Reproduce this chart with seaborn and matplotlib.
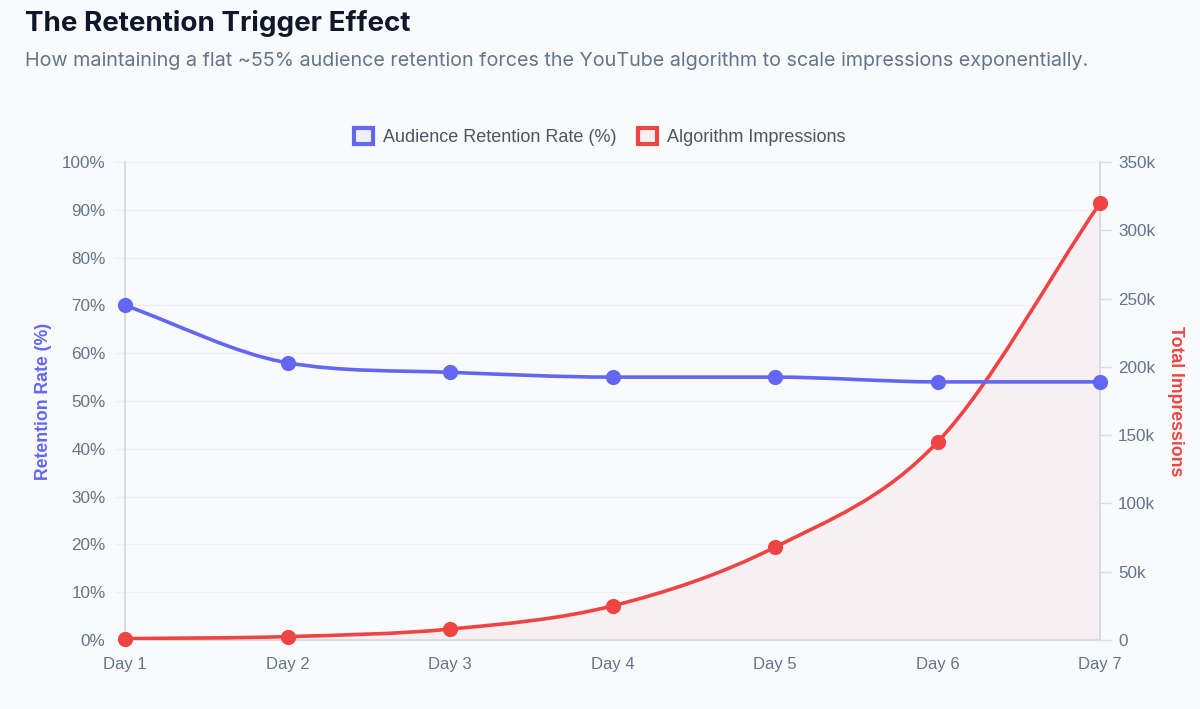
import numpy as np
import pandas as pd
import seaborn as sns
import matplotlib.pyplot as plt
from matplotlib.path import Path
from matplotlib.patches import PathPatch, Patch

# data
days = ["Day 1", "Day 2", "Day 3", "Day 4", "Day 5", "Day 6", "Day 7"]
retention = [70, 58, 56, 55, 55, 54, 54]
impressions = [1000, 2500, 8000, 25000, 68000, 145000, 320000]

BLUE = "#6366f1"
RED = "#ef4444"
BG = "#f8fafc"
GRID = "#f3eef1"
SPINE = "#d8dbe2"
TICK = "#64748b"

df = pd.DataFrame({"day": days, "x": range(len(days)),
                   "retention": retention, "impressions": impressions})

sns.set_theme(style="white")
plt.rcParams["font.family"] = ["Liberation Sans", "DejaVu Sans"]


def smooth_path(xs, ys, close=False):
    # monotone cubic curve through the points (like Chart.js 'monotone')
    xs = np.asarray(xs, float)
    ys = np.asarray(ys, float)
    n = len(xs)
    dk = np.diff(ys) / np.diff(xs)
    mk = np.zeros(n)
    mk[0], mk[-1] = dk[0], dk[-1]
    for i in range(1, n - 1):
        if np.sign(dk[i - 1]) != np.sign(dk[i]):
            mk[i] = 0
        else:
            mk[i] = (dk[i - 1] + dk[i]) / 2
    for i in range(n - 1):
        if abs(dk[i]) < 1e-12:
            mk[i] = mk[i + 1] = 0
            continue
        a, b = mk[i] / dk[i], mk[i + 1] / dk[i]
        sq = a * a + b * b
        if sq <= 9:
            continue
        tau = 3 / np.sqrt(sq)
        mk[i], mk[i + 1] = a * tau * dk[i], b * tau * dk[i]
    verts, codes = [(xs[0], ys[0])], [Path.MOVETO]
    for i in range(n - 1):
        h = (xs[i + 1] - xs[i]) / 3
        verts += [(xs[i] + h, ys[i] + mk[i] * h),
                  (xs[i + 1] - h, ys[i + 1] - mk[i + 1] * h),
                  (xs[i + 1], ys[i + 1])]
        codes += [Path.CURVE4] * 3
    if close:
        verts += [(xs[-1], 0), (xs[0], 0), (xs[0], ys[0])]
        codes += [Path.LINETO, Path.LINETO, Path.CLOSEPOLY]
    return Path(verts, codes)


fig = plt.figure(figsize=(12, 7.09), dpi=100, facecolor=BG)
ax = fig.add_axes([0.1042, 0.0973, 0.8125, 0.6742], facecolor=BG)
ax2 = ax.twinx()

ax.set_xlim(0, 6)
ax.set_ylim(0, 100)
ax2.set_ylim(0, 350000)

# impressions: fill + curve
ax2.add_patch(PathPatch(smooth_path(df.x, df.impressions, close=True),
                        facecolor="#f7f0f2", edgecolor="none", zorder=1))
ax2.add_patch(PathPatch(smooth_path(df.x, df.impressions),
                        facecolor="none", edgecolor=RED, lw=2.6, zorder=3,
                        capstyle="round", joinstyle="round"))
sns.scatterplot(data=df, x="x", y="impressions", ax=ax2, color=RED, s=120,
                edgecolor=RED, linewidth=0, zorder=4, clip_on=False, legend=False)

# retention: curve + points (drawn on ax2 so it sits above the fill; scaled to % axis)
ret_on_ax2 = np.array(df.retention) * 3500
ax2.add_patch(PathPatch(smooth_path(df.x, ret_on_ax2),
                        facecolor="none", edgecolor=BLUE, lw=2.6, zorder=3,
                        capstyle="round", joinstyle="round"))
sns.scatterplot(x=df.x, y=ret_on_ax2, ax=ax2, color=BLUE, s=120,
                edgecolor=BLUE, linewidth=0, zorder=5, clip_on=False, legend=False)

# axes styling
ax.set_xticks(df.x)
ax.set_xticklabels(days)
ax.set_yticks(range(0, 101, 10))
ax.set_yticklabels([f"{v}%" for v in range(0, 101, 10)])
ax2.set_yticks(range(0, 350001, 50000))
ax2.set_yticklabels(["0"] + [f"{v // 1000}k" for v in range(50000, 350001, 50000)])
ax.grid(axis="y", color=GRID, lw=1)
ax.grid(axis="x", visible=False)
ax2.grid(False)
ax.set_axisbelow(True)

ax.tick_params(axis="x", length=0, pad=12, labelsize=12, labelcolor=TICK)
ax.tick_params(axis="y", length=8, width=1, color=GRID, pad=6, labelsize=12.3, labelcolor=TICK)
ax2.tick_params(axis="y", length=8, width=1, color=SPINE, pad=5, labelsize=12.3, labelcolor=TICK)
ax.set_xlabel("")
ax2.set_xlabel("")
ax2.set_ylabel("")

for a in (ax, ax2):
    a.spines["top"].set_visible(False)
    for s in ("left", "right", "bottom"):
        a.spines[s].set_color(SPINE)
        a.spines[s].set_linewidth(1.3)

ax.set_ylabel("Retention Rate (%)", color=BLUE, fontsize=12.7, fontweight="bold", labelpad=7)
ax2.set_ylabel("Total Impressions", color=RED, fontsize=12.7, fontweight="bold",
               rotation=270, labelpad=21)

# title and subtitle
fig.text(25 / 1200, 1 - 31 / 709, "The Retention Trigger Effect", fontsize=20,
         fontweight="bold", color="#0f172a", family=["Inter", "DejaVu Sans"], va="baseline")
fig.text(25 / 1200, 1 - 66 / 709,
         "How maintaining a flat ~55% audience retention forces the YouTube algorithm to scale impressions exponentially.",
         fontsize=14.2, color=TICK, family=["Inter", "DejaVu Sans"], va="baseline")

# legend
handles = [Patch(facecolor="#f3f1f7", edgecolor=BLUE, lw=3, label="Audience Retention Rate (%)"),
           Patch(facecolor="#f7f0f2", edgecolor=RED, lw=3, label="Algorithm Impressions")]
fig.legend(handles=handles, loc="center", bbox_to_anchor=(0.5, 1 - 137 / 709), ncol=2,
           frameon=False, fontsize=13, labelcolor="#4b5563", handlelength=1.05,
           handleheight=1.05, handletextpad=0.55, columnspacing=1.2)

fig.savefig("out.png", dpi=100, facecolor=BG)
